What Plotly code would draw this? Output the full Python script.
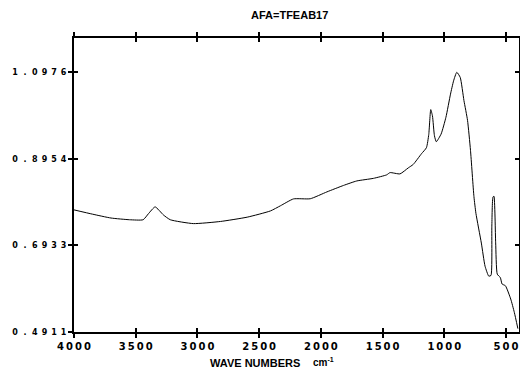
import plotly.graph_objects as go

wavenumber = [4000, 3850, 3700, 3550, 3440, 3397, 3343, 3275, 3220, 3033, 2813, 2597,
              2409, 2328, 2222, 2086, 1951, 1817, 1709, 1575, 1467, 1440, 1359, 1292,
              1252, 1185, 1145, 1126, 1110, 1096, 1080, 1065, 1026, 987, 950, 925, 899,
              871, 841, 812, 788, 760, 744, 700, 670, 640, 622, 615, 606, 598, 584, 571,
              546, 532, 505, 462, 433, 404]
absorbance = [0.776, 0.766, 0.757, 0.753, 0.753, 0.767, 0.783, 0.764, 0.753, 0.744, 0.749,
              0.759, 0.7735, 0.7855, 0.8016, 0.802, 0.818, 0.833, 0.8435, 0.8495, 0.8577,
              0.863, 0.860, 0.874, 0.882, 0.907, 0.921, 0.952, 1.010, 0.995, 0.949, 0.935,
              0.953, 0.992, 1.046, 1.077, 1.097, 1.085, 1.031, 0.985, 0.915, 0.807, 0.768,
              0.6986, 0.6446, 0.6215, 0.623, 0.738, 0.806, 0.808, 0.699, 0.626, 0.618,
              0.603, 0.599, 0.568, 0.537, 0.499]

x_ticks = [4000, 3500, 3000, 2500, 2000, 1500, 1000, 500]
x_ticklabels = ["4\u20090\u20090\u20090", "3\u20095\u20090\u20090", "3\u20090\u20090\u20090",
                "2\u20095\u20090\u20090", "2\u20090\u20090\u20090", "1\u20095\u20090\u20090",
                "1\u20090\u20090\u20090", "5\u20090\u20090"]
y_ticks = [0.4911, 0.6933, 0.8954, 1.0976]
y_ticklabels = ["0\u2002\u2009.\u2002\u20094\u20029\u20021\u20021",
                "0\u2002\u2009.\u2002\u20096\u20029\u20023\u20023",
                "0\u2002\u2009.\u2002\u20098\u20029\u20025\u20024",
                "1\u2002\u2009.\u2002\u20090\u20029\u20027\u20026"]

title_text = "AFA=TFEAB17"
xlabel_text = "WAVE NUMBERS"
unit_text = "cm<sup>-1</sup>"

X_RANGE = [4000, 395]
Y_RANGE = [0.4911, 1.177]

# the page body adds an 8 px offset, so the figure is 8 px smaller on each axis
fig = go.Figure()
fig.add_trace(go.Scatter(x=wavenumber, y=absorbance, mode="lines",
                         line=dict(color="black", width=1, shape="spline", smoothing=0.5),
                         showlegend=False))
# invisible trace on overlay axes so their tick marks render
fig.add_trace(go.Scatter(x=[wavenumber[0]], y=[absorbance[0]], mode="markers",
                         marker=dict(opacity=0, size=1), xaxis="x2", yaxis="y2",
                         showlegend=False, hoverinfo="skip"))

fig.update_layout(
    width=520, height=370,
    margin=dict(l=66, r=9, t=30, b=46),
    paper_bgcolor="white", plot_bgcolor="white",
    xaxis=dict(range=X_RANGE, tickvals=x_ticks, ticktext=x_ticklabels,
               ticks="outside", ticklen=4, tickwidth=1.5, tickcolor="black",
               showline=True, linecolor="black", linewidth=2, mirror="ticks",
               showgrid=False, zeroline=False, automargin=False,
               tickfont=dict(family="DejaVu Sans", size=10, color="black", weight="bold")),
    yaxis=dict(range=Y_RANGE, tickvals=y_ticks, ticktext=y_ticklabels,
               ticks="outside", ticklen=4, tickwidth=1.5, tickcolor="black",
               showline=True, linecolor="black", linewidth=2, mirror="ticks",
               showgrid=False, zeroline=False, automargin=False,
               tickfont=dict(family="DejaVu Sans", size=8, color="black", weight="bold")),
    xaxis2=dict(range=X_RANGE, overlaying="x", matches="x", tickvals=x_ticks,
                showticklabels=False, ticks="inside", ticklen=4, tickwidth=1.5,
                tickcolor="black", mirror="ticks", showline=False, showgrid=False,
                zeroline=False, automargin=False),
    yaxis2=dict(range=Y_RANGE, overlaying="y", matches="y", tickvals=y_ticks,
                showticklabels=False, ticks="inside", ticklen=4, tickwidth=1.5,
                tickcolor="black", mirror="ticks", showline=False, showgrid=False,
                zeroline=False, automargin=False),
    annotations=[
        dict(text="<b>" + title_text + "</b>", xref="paper", yref="paper",
             x=(289 - 74) / 445, y=(332 - 15) / 294, xanchor="center", yanchor="middle",
             showarrow=False,
             font=dict(family="Liberation Sans", size=11, color="black")),
        dict(text="<b>" + xlabel_text + "</b>", xref="paper", yref="paper",
             x=(208 - 74) / 445, y=(332 - 363) / 294, xanchor="left", yanchor="middle",
             showarrow=False,
             font=dict(family="Liberation Sans", size=11, color="black")),
        dict(text="<b>" + unit_text + "</b>", xref="paper", yref="paper",
             x=(311 - 74) / 445, y=(332 - 362) / 294, xanchor="left", yanchor="middle",
             showarrow=False,
             font=dict(family="Liberation Sans", size=10, color="black")),
    ],
)

fig.write_html("out.html")
